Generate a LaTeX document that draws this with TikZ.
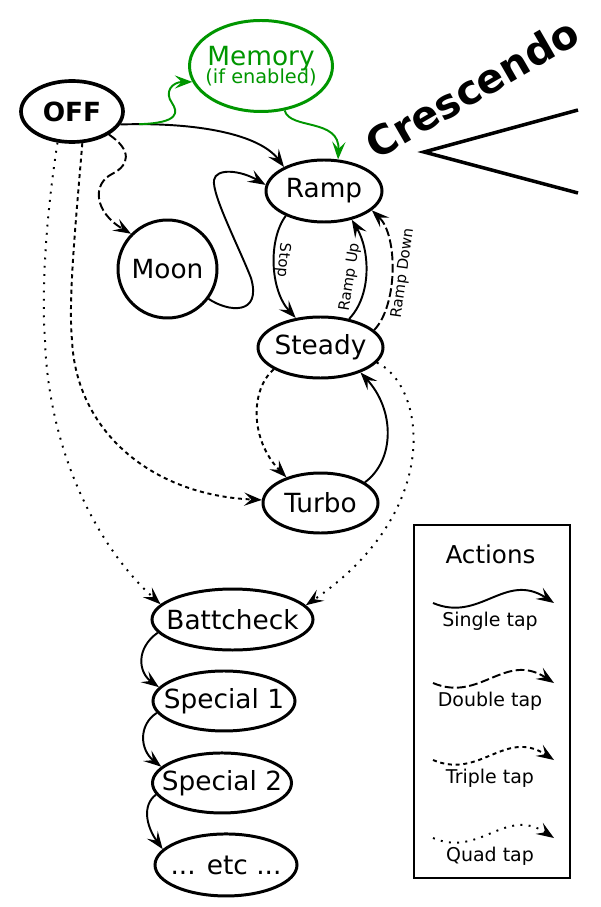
\documentclass[tikz,border=0pt]{standalone}
\usepackage{fontspec}
\setmainfont{DejaVu Sans}
\usepackage{tikz}
\usetikzlibrary{positioning,shapes.geometric,arrows.meta}
\definecolor{memgreen}{RGB}{0,150,0}
\tikzset{
	mode/.style={draw=black,ellipse,line width=1.7pt,inner sep=-0.25cm,font=\fontsize{15}{17}\selectfont},
	tap/.style={line width=1.1pt,-{Stealth[length=10pt,width=7.5pt,inset=4pt]}},
	singletap/.style={tap},
	doubletap/.style={tap,dash pattern=on 5pt off 2pt},
	tripletap/.style={tap,dash pattern=on 2.3pt off 2.1pt},
	quadtap/.style={tap,dash pattern=on 1.1pt off 3.6pt},
	edgelabel/.style={font=\fontsize{8.5}{10}\selectfont,inner sep=0pt},
	keylabel/.style={font=\fontsize{10.8}{12}\selectfont,inner sep=0pt}
}
\begin{document}
\begin{tikzpicture}
		\useasboundingbox (0,0) rectangle (12,-18.14);
		\node[mode,line width=2.1pt,minimum width=2.04cm,minimum height=1.22cm,font=\fontsize{15}{17}\selectfont\bfseries] (off) at (1.44,-2.23) {OFF};
		\node[mode,draw=memgreen,text=memgreen,minimum width=2.86cm,minimum height=1.82cm,align=center] (memory) at (5.22,-1.32) {Memory\\[-7pt]{\fontsize{11}{12}\selectfont (if enabled)}};
		\node[mode,minimum width=2.32cm,minimum height=1.24cm] (ramp) at (6.48,-3.82) {Ramp};
		\node[mode,minimum width=1.98cm,minimum height=1.96cm] (moon) at (3.35,-5.38) {Moon};
		\node[mode,minimum width=2.5cm,minimum height=1.22cm] (steady) at (6.41,-6.95) {Steady};
		\node[mode,minimum width=2.3cm,minimum height=1.2cm] (turbo) at (6.41,-10.06) {Turbo};
		\node[mode,minimum width=3.22cm,minimum height=1.22cm] (battcheck) at (4.65,-12.39) {Battcheck};
		\node[mode,minimum width=2.84cm,minimum height=1.2cm,below=0.36cm of battcheck,xshift=-0.17cm] (special1) {Special 1};
		\node[mode,minimum width=2.78cm,minimum height=1.2cm,below=0.38cm of special1,xshift=-0.04cm] (special2) {Special 2};
		\node[mode,minimum width=2.84cm,minimum height=1.24cm,below=0.36cm of special2,xshift=0.08cm] (etc) {... etc ...};
		\node[font=\fontsize{23}{26}\selectfont\bfseries,rotate=30] (crescendo) at (9.44,-1.76) {Crescendo};
		\draw[line width=2pt] (11.56,-2.2) -- (8.48,-3.04) -- (11.56,-3.86);
		
		\draw[singletap] (off.-15) .. controls (4.0,-2.44) and (5.2,-2.7) .. (ramp.149) coordinate[pos=0.08] (fork);
		\draw[singletap,memgreen] (fork) .. controls (3.6,-2.46) and (3.56,-2.24) .. (3.44,-2.06) .. controls (3.28,-1.84) and (3.44,-1.64) .. (memory.193);
		\draw[singletap,memgreen] (memory.-62) .. controls (5.8,-2.6) and (6.8,-2.36) .. (ramp.66);
		\draw[doubletap] (off.-32) .. controls (2.64,-3.0) and (2.6,-3.3) .. (2.24,-3.48) .. controls (1.84,-3.68) and (1.88,-4.24) .. (moon.136);
		\draw[singletap] (moon.-36) .. controls (4.56,-6.24) and (5.24,-6.32) .. (5.02,-5.56) .. controls (4.76,-4.9) and (4.24,-3.9) .. (4.28,-3.6) .. controls (4.32,-3.36) and (4.8,-3.4) .. (ramp.174);
		\draw[tripletap] (off.-72) .. controls (1.52,-4.4) and (1.36,-6.0) .. (1.44,-6.8) .. controls (1.52,-8.6) and (3.0,-9.9) .. (turbo.177);
		\draw[quadtap] (off.-115) .. controls (0.88,-4.6) and (0.84,-6.0) .. (0.9,-6.8) .. controls (0.96,-8.8) and (1.8,-10.8) .. (battcheck.168);
		\draw[singletap] (ramp.-147) .. controls (5.36,-4.8) and (5.4,-5.8) .. (steady.130);
		\draw[singletap] (steady.45) .. controls (7.44,-5.9) and (7.4,-5.0) .. (ramp.-46);
		\draw[doubletap] (steady.18) .. controls (7.96,-6.1) and (7.96,-4.7) .. (ramp.-22);
		\node[edgelabel,rotate=-95] (stop) at (5.66,-5.2) {Stop};
		\node[edgelabel,rotate=81] (rampup) at (7.0,-5.54) {Ramp Up};
		\node[edgelabel,rotate=82] (rampdown) at (8.06,-5.46) {Ramp Down};
		\draw[tripletap] (steady.-155) .. controls (5.0,-7.8) and (5.0,-8.8) .. (turbo.143);
		\draw[singletap] (turbo.25) .. controls (7.9,-9.2) and (7.9,-8.2) .. (steady.-32);
		\draw[quadtap] (steady.-15) .. controls (8.5,-7.7) and (8.9,-10.2) .. (battcheck.11);
		\draw[singletap] (battcheck.-170) .. controls (2.72,-12.96) and (2.76,-13.44) .. (special1.168);
		\draw[singletap] (special1.-170) .. controls (2.76,-14.5) and (2.8,-15.0) .. (special2.165);
		\draw[singletap] (special2.-170) .. controls (2.84,-16.1) and (2.92,-16.52) .. (etc.166);
		
		\node[draw=black,line width=1.1pt,minimum width=3.12cm,minimum height=7.06cm] (legend) at (9.84,-14.03) {};
		\node[font=\fontsize{14}{16}\selectfont] (actions) at (9.81,-11.09) {Actions};
		\foreach \kind/\word/\y in {singletap/Single tap/-12.06,doubletap/Double tap/-13.66,tripletap/Triple tap/-15.2,quadtap/Quad tap/-16.76}{
			\coordinate (from) at (8.66,\y);
			\coordinate (to) at (11.08,\y);
			\draw[\kind] (from) .. controls (9.6,\y-0.4) and (10.1,\y+0.64) .. (to);
			\node[keylabel] (key) at (9.8,\y-0.36) {\word};
		}
	\end{tikzpicture}
\end{document}
